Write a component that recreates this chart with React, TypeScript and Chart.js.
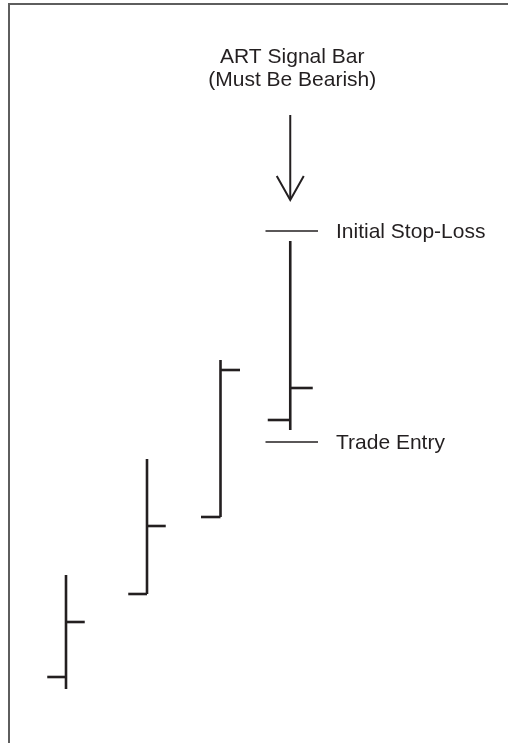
import React, { useEffect, useRef } from "react";
import { Chart, registerables } from "chart.js";

Chart.register(...registerables);

// ---- Data (price units) ----
const barNames = ["Bar 1", "Bar 2", "Bar 3", "ART Signal Bar"];
const barX = [1, 2.08, 3.06, 3.99];
const opens = [4.6, 21.2, 36.6, 56];
const highs = [25, 48.2, 68, 91.8];
const lows = [2.2, 21.2, 36.6, 54];
const closes = [15.6, 34.8, 66, 62.4];

const levelNames = ["Initial Stop-Loss", "Trade Entry"];
const levelValues = [93.8, 51.6];

const titleLines = ["ART Signal Bar", "(Must Be Bearish)"];
const arrowTop = 117;
const arrowTip = 100;
const arrowHeadBack = 104.8;

// ---- Styles ----
const INK = "#231f20";
const TICK_LEN = [0.25, 0.25, 0.26, 0.3];
const LEVEL_HALF = 0.35;
const ARROW_HALF = 0.18;
const FONT = '21px "Liberation Sans", Arial, Helvetica, sans-serif';

function seg(x1: number, y1: number, x2: number, y2: number, width: number) {
  return {
    data: [
      { x: x1, y: y1 },
      { x: x2, y: y2 },
    ],
    showLine: true,
    borderColor: INK,
    borderWidth: width,
    pointRadius: 0,
    pointHoverRadius: 0,
    borderCapStyle: "butt" as const,
    borderJoinStyle: "miter" as const,
    tension: 0,
    clip: false as const,
  };
}

function buildDatasets() {
  const ds: any[] = [];
  barX.forEach((bx, i) => {
    const t = TICK_LEN[i];
    ds.push({ label: barNames[i] + " range", ...seg(bx, lows[i], bx, highs[i], 2.6) });
    ds.push({ label: barNames[i] + " open", ...seg(bx - t, opens[i], bx, opens[i], 2.6) });
    ds.push({ label: barNames[i] + " close", ...seg(bx, closes[i], bx + t, closes[i], 2.6) });
  });
  const sx = barX[barX.length - 1];
  levelValues.forEach((v, i) => {
    ds.push({ label: levelNames[i], ...seg(sx - LEVEL_HALF + 0.02, v, sx + LEVEL_HALF + 0.02, v, 1.3) });
  });
  // arrow
  ds.push({ label: "arrow shaft", ...seg(sx, arrowTop, sx, arrowTip + 0.2, 2) });
  ds.push({
    label: "arrow head",
    data: [
      { x: sx - ARROW_HALF, y: arrowHeadBack },
      { x: sx, y: arrowTip },
      { x: sx + ARROW_HALF, y: arrowHeadBack },
    ],
    showLine: true,
    borderColor: INK,
    borderWidth: 2,
    pointRadius: 0,
    borderCapStyle: "butt",
    borderJoinStyle: "miter",
    tension: 0,
    clip: false,
  });
  return ds;
}

const framePlugin = {
  id: "frame",
  beforeDraw(chart: any) {
    const ctx = chart.ctx;
    ctx.save();
    ctx.fillStyle = "#ffffff";
    ctx.fillRect(0, 0, chart.width, chart.height);
    ctx.fillStyle = "#5e5e5e";
    ctx.fillRect(8, 3, chart.width - 8, 2);
    ctx.fillRect(8, 3, 2, chart.height - 3);
    ctx.restore();
  },
};

const textPlugin = {
  id: "annotText",
  afterDatasetsDraw(chart: any) {
    const ctx = chart.ctx;
    const xs = chart.scales.x;
    const ys = chart.scales.y;
    const sx = barX[barX.length - 1];
    ctx.save();
    ctx.fillStyle = INK;
    ctx.font = FONT;
    // title above arrow
    const cx = xs.getPixelForValue(sx) + 2;
    const top = ys.getPixelForValue(arrowTop);
    ctx.textAlign = "center";
    ctx.textBaseline = "alphabetic";
    ctx.fillText(titleLines[1], cx, top - 29);
    ctx.fillText(titleLines[0], cx, top - 52);
    // level labels
    ctx.textAlign = "left";
    ctx.textBaseline = "middle";
    levelValues.forEach((v, i) => {
      const xEnd = xs.getPixelForValue(sx + LEVEL_HALF + 0.02);
      ctx.fillText(levelNames[i], xEnd + 18, ys.getPixelForValue(v) + 1.5);
    });
    ctx.restore();
  },
};

export default function App() {
  const ref = useRef<HTMLCanvasElement | null>(null);
  useEffect(() => {
    if (!ref.current) return;
    const chart = new Chart(ref.current, {
      type: "scatter",
      data: { datasets: buildDatasets() },
      options: {
        animation: false,
        responsive: false,
        events: [],
        layout: { padding: { top: 0, bottom: 43, left: 0, right: 0 } },
        plugins: { legend: { display: false }, tooltip: { enabled: false } },
        scales: {
          x: { type: "linear", min: 0.12, max: 0.12 + 508 / 75, display: false },
          y: { type: "linear", min: 0, max: 140, display: false },
        },
      },
      plugins: [framePlugin, textPlugin],
    });
    return () => chart.destroy();
  }, []);
  return (
    <div style={{ position: "absolute", left: 0, top: 0, width: 508, height: 743, background: "#fff" }}>
      <canvas ref={ref} width={508} height={743} style={{ display: "block" }} />
    </div>
  );
}
